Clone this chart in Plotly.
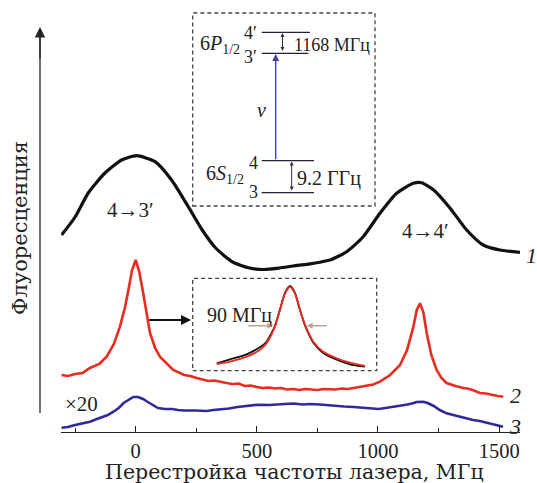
import plotly.graph_objects as go

# ---------------- data (MHz, arbitrary fluorescence units) ----------------
black_x = [-306, -250, -196, -127, -58, 4, 80, 148, 217, 272, 330, 400, 470, 530,
           593, 650, 733, 802, 871, 939, 1008, 1077, 1146, 1180, 1230, 1297, 1366,
           1434, 1503, 1586]
black_y = [197, 215, 239, 259, 272, 276.3, 270.3, 252, 225.3, 203, 184, 170, 164, 162.5,
           164, 166, 168.7, 172, 180.3, 195.3, 218.7, 238.7, 248.7, 249.3, 242, 224, 202,
           187, 182, 179.7]

red_x = [-306, -280, -250, -220, -189, -150, -120, -90, -65, -45, -30, -15, 0, 15, 31, 45,
         59, 80, 100, 130, 155, 200, 225, 252, 275, 300, 325, 350, 375, 400, 425, 450, 475,
         500, 525, 550, 575, 600, 625, 650, 675, 700, 725, 750, 775, 800, 825, 850, 875,
         900, 925, 950, 980, 1008, 1050, 1091, 1120, 1146, 1160, 1173, 1187, 1201, 1220,
         1242, 1262, 1283, 1300, 1320, 1352, 1370, 1390, 1421, 1445, 1470, 1495, 1517]
red_y = [57, 56, 58, 59, 64, 68, 75.3, 88, 105.3, 124, 142, 162, 172, 160, 138.7, 117,
         99, 84, 75.3, 68, 62, 57, 56, 54, 52.5, 51, 51.5, 50, 49, 48, 48.5, 46, 46.5,
         45, 44, 44.5, 43.5, 44, 42.5, 43, 42, 43, 42.5, 42, 43, 43, 42.5, 43.5, 43,
         44, 45, 46, 47.5, 50.3, 57, 67, 82, 105.3, 122, 128.7, 120, 99, 77,
         62, 54, 49, 47.5, 46, 44, 43.5, 42, 39, 38.5, 37, 36, 35.3]

blue_x = [-306, -280, -250, -220, -189, -160, -140, -115, -92, -70, -50, -30, -10, 10, 30,
          50, 70, 92, 120, 150, 175, 200, 250, 292, 320, 350, 385, 420, 460, 505, 550, 600,
          650, 690, 719, 760, 800, 830, 861, 900, 950, 1003, 1030, 1060, 1090, 1116, 1140,
          1160, 1187, 1205, 1230, 1255, 1283, 1310, 1340, 1365, 1392, 1420, 1450, 1480, 1516]
blue_y = [4.3, 5, 7, 8.5, 10.3, 13, 15, 17, 20.3, 24, 29, 32, 35, 35, 33,
          30, 27, 24, 23, 23, 22, 21.5, 21.5, 21, 22, 22.5, 23.5, 25, 26, 27.3, 27, 28,
          28.5, 27.5, 28, 27.5, 26.5, 26, 25.5, 25, 24, 23, 24, 25, 26, 27.3, 28.5,
          30, 30.3, 29, 26, 22, 18.7, 17, 15, 13.5, 12, 11, 9, 7.5, 5.3]

# zoomed peak (inset), detuning in MHz relative to the 4->3' line, arbitrary height
inset_x = [-194, -159, -115, -80, -62, -40, -26.5, -13, 0, 13, 26.5, 40, 62, 88, 124, 159, 199]
inset_red = [6.7, 9.0, 14.0, 20.7, 27.4, 44.0, 60.7, 77.4, 84.0, 77.4, 60.7, 45.7, 29.0, 19.0, 12.4, 8.0, 4.7]
inset_black = [7.4, 11.4, 16.4, 23.4, 29.0, 44.7, 61.4, 78.0, 84.7, 78.0, 60.7, 45.0, 28.0, 17.7, 11.0, 6.4, 4.0]

xtick_vals = [0, 500, 1000, 1500]
xminor_vals = [-250, 250, 750, 1250]

# ---------------- styling ----------------
W, H = 537, 483
L, R, T, B = 61, 17, 0, 51
PW, PH = W - L - R, H - T - B
FONT = "Liberation Serif"
WIDEFONT = "DejaVu Serif"
TXT = "#222222"
RED = "#ea2b1f"
BLUE = "#30299a"


def px(x):
    return (x - L) / PW


def py(y):
    return (T + PH - y) / PH


fig = go.Figure()
fig.add_trace(go.Scatter(x=black_x, y=black_y, mode="lines", line=dict(color="#111111", width=3.2, shape="spline", smoothing=0.6)))
fig.add_trace(go.Scatter(x=red_x, y=red_y, mode="lines", line=dict(color=RED, width=2.6)))
fig.add_trace(go.Scatter(x=blue_x, y=blue_y, mode="lines", line=dict(color=BLUE, width=2.6)))

fig.add_trace(go.Scatter(x=inset_x, y=inset_black, mode="lines", xaxis="x2", yaxis="y2",
                         line=dict(color="#111111", width=1.8, shape="spline", smoothing=0.6)))
fig.add_trace(go.Scatter(x=inset_x, y=inset_red, mode="lines", xaxis="x2", yaxis="y2",
                         line=dict(color=RED, width=1.8, shape="spline", smoothing=0.6)))

shapes = []
dash = dict(color="#444444", width=1.3, dash="4px,3px")
# energy-level inset box
shapes.append(dict(type="rect", xref="paper", yref="paper", x0=px(192.7), x1=px(375),
                   y0=py(206), y1=py(13), line=dash))
# zoom inset box
shapes.append(dict(type="rect", xref="paper", yref="paper", x0=px(192.7), x1=px(376.7),
                   y0=py(370.7), y1=py(278.3), line=dash))
# levels
for x0, x1, y in [(261.7, 310, 32.3), (261.7, 308.3, 53.3), (261.7, 314, 160.7), (261.7, 314, 192.7)]:
    shapes.append(dict(type="line", xref="paper", yref="paper", x0=px(x0), x1=px(x1),
                       y0=py(y), y1=py(y), line=dict(color="#222244", width=1.3)))
# y axis line
shapes.append(dict(type="line", xref="paper", yref="paper", x0=px(40), x1=px(40),
                   y0=py(413), y1=py(35), line=dict(color=TXT, width=1.3)))

ann = []


def arrow(xt, yt, xs, ys, color, width, head=2, size=1.0, both=False):
    ann.append(dict(xref="paper", yref="paper", axref="pixel", ayref="pixel",
                    x=px(xt), y=py(yt), ax=xs - xt, ay=ys - yt, text="", showarrow=True,
                    arrowhead=head, arrowsize=size, arrowwidth=width, arrowcolor=color,
                    arrowside="end+start" if both else "end", startarrowhead=head,
                    startarrowsize=size, standoff=0, startstandoff=0))


def text(x, y, s, size, italic=False, xanchor="center", angle=0, family=FONT):
    ann.append(dict(xref="paper", yref="paper", x=px(x), y=py(y), text=s, showarrow=False,
                    xanchor=xanchor, yanchor="middle", textangle=angle,
                    font=dict(family=family, size=size, color=TXT,
                              style="italic" if italic else "normal")))


arrow(40, 27, 40, 60, TXT, 1.3, head=2, size=1.6)
arrow(275.7, 54, 275.7, 160.7, "#4040a8", 1.4, head=2, size=1.0)
arrow(282.5, 33, 282.5, 52.5, "#333333", 1.0, head=2, size=0.8, both=True)
arrow(291.7, 161.5, 291.7, 192, "#333333", 1.0, head=2, size=0.8, both=True)
arrow(191, 320, 147.7, 320, "#111111", 2.0, head=2, size=1.0)
arrow(273.3, 325.7, 246.7, 325.7, "#c9a08c", 1.5, head=2, size=0.8)
arrow(306.7, 325.7, 328.3, 325.7, "#c9a08c", 1.5, head=2, size=0.8)

text(20, 228, "Флуоресценция", 21, angle=-90, family=WIDEFONT)
text(294, 472, "Перестройка частоты лазера, МГц", 20.5, family=WIDEFONT)
text(130, 210, "4→3′", 21)
text(425, 231, "4→4′", 21)
text(531, 255, "1", 22, italic=True)
text(515, 395, "2", 22, italic=True)
text(515, 426, "3", 22, italic=True)
text(81, 404, "×20", 21)
text(239, 315, "90 МГц", 20)
text(292, 45, "1168 МГц", 18, xanchor="left")
text(295, 178, "9.2 ГГц", 20, xanchor="left")
text(261, 110, "ν", 20, italic=True)
text(242, 45, "6<i>P</i><sub>1/2</sub>", 20, xanchor="right")
text(250, 33, "4′", 18)
text(250, 57, "3′", 18)
text(246, 174, "6<i>S</i><sub>1/2</sub>", 20, xanchor="right")
text(253, 163, "4", 18)
text(253, 192, "3", 18)

fig.update_layout(
    width=W, height=H, margin=dict(l=L, r=R, t=T, b=B),
    paper_bgcolor="white", plot_bgcolor="white", showlegend=False,
    shapes=shapes, annotations=ann,
    xaxis=dict(range=[-308.3, 1586.1], tickvals=xtick_vals, ticks="inside", ticklen=6,
               tickwidth=1.2, tickcolor=TXT, showline=True, linecolor=TXT, linewidth=1.3,
               showgrid=False, zeroline=False,
               tickfont=dict(family=FONT, size=20.5, color=TXT),
               minor=dict(tickvals=xminor_vals, ticks="inside", ticklen=4, tickwidth=1.2,
                          tickcolor=TXT, showgrid=False)),
    yaxis=dict(range=[0, PH], visible=False, fixedrange=True),
    xaxis2=dict(domain=[px(192.7), px(376.7)], range=[-257.8, 229.8], visible=False,
                anchor="y2"),
    yaxis2=dict(domain=[py(370.7), py(278.3)], range=[0, 92.4], visible=False,
                anchor="x2"),
)

fig.write_html("out.html", config={"displayModeBar": False},
               post_script="document.body.style.margin='0';document.body.style.padding='0';")
